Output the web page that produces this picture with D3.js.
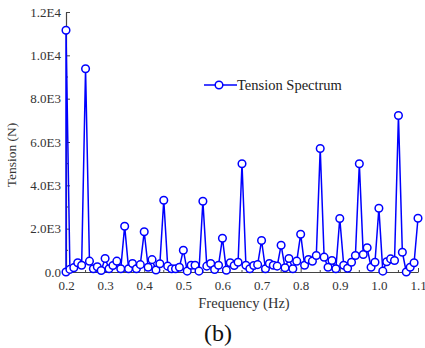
<!DOCTYPE html>
<html><head><meta charset="utf-8">
<script src="https://cdn.jsdelivr.net/npm/d3@7"></script>
<style>
body{margin:0;background:#fff;}
text{font-family:"Liberation Serif","Times New Roman",serif;}
</style></head>
<body><svg id="c" width="425" height="348"></svg>
<script>
const frequency = [0.20,0.20,0.21,0.22,0.23,0.24,0.25,0.26,0.27,0.28,0.29,0.30,0.31,0.32,0.33,0.34,0.35,0.36,0.37,0.38,0.39,
  0.40,0.41,0.42,0.43,0.44,0.45,0.46,0.47,0.48,0.49,0.50,0.51,0.52,0.53,0.54,0.55,0.56,0.57,0.58,0.59,
  0.60,0.61,0.62,0.63,0.64,0.65,0.66,0.67,0.68,0.69,0.70,0.71,0.72,0.73,0.74,0.75,0.76,0.77,0.78,0.79,
  0.80,0.81,0.82,0.83,0.84,0.85,0.86,0.87,0.88,0.89,0.90,0.91,0.92,0.93,0.94,0.95,0.96,0.97,0.98,0.99,
  1.00,1.01,1.02,1.03,1.04,1.05,1.06,1.07,1.08,1.09,1.10];
const tension = [0,11160,120,200,425,315,9380,500,150,240,70,620,150,300,500,150,2115,150,390,150,340,
  1855,220,570,90,380,3313,270,150,150,220,1006,40,315,315,40,3267,270,390,115,315,
  1560,85,425,300,450,4993,315,150,300,340,1454,150,390,315,270,1237,195,620,150,500,
  1744,315,575,500,760,5699,685,220,530,150,2469,315,170,450,760,4993,805,1115,220,450,
  2944,40,470,605,530,7222,915,0,220,425,2483];
const xTicks = [0.2,0.3,0.4,0.5,0.6,0.7,0.8,0.9,1.0,1.1];
const yTicks = [0,2000,4000,6000,8000,10000,12000];
const yTickLabels = ["0.0","2.0E3","4.0E3","6.0E3","8.0E3","1.0E4","1.2E4"];
const seriesName = "Tension Spectrum";

const svg = d3.select("#c");
const L=66, R=418, T=12, B=272;
const x = d3.scaleLinear().domain([0.2,1.1]).range([L,R]);
const y = d3.scaleLinear().domain([0,12000]).range([B,T]);
const axisColor = "#444";

const xMinor = d3.range(0.25,1.1,0.1);
const yMinor = d3.range(1000,12000,2000);

const gx = svg.append("g").attr("transform",`translate(0,${B})`)
  .call(d3.axisBottom(x).tickValues(xTicks).tickFormat(d3.format(".1f")).tickSizeInner(-4).tickSizeOuter(0).tickPadding(9));
gx.select(".domain").attr("stroke",axisColor).attr("stroke-width",1.2);
gx.selectAll(".tick line").attr("stroke",axisColor);
gx.selectAll("text").attr("font-size",13).attr("fill","#333").style("font-family","Liberation Serif");
svg.append("g").selectAll("line").data(xMinor).join("line")
  .attr("x1",d=>x(d)).attr("x2",d=>x(d)).attr("y1",B).attr("y2",B-2).attr("stroke",axisColor);

const gy = svg.append("g").attr("transform",`translate(${L},0)`)
  .call(d3.axisLeft(y).tickValues(yTicks).tickFormat((d,i)=>yTickLabels[i]).tickSizeInner(-4).tickSizeOuter(0).tickPadding(5));
gy.select(".domain").attr("stroke",axisColor).attr("stroke-width",1.2);
gy.selectAll(".tick line").attr("stroke",axisColor);
gy.selectAll("text").attr("font-size",13).attr("fill","#333").style("font-family","Liberation Serif");
svg.append("g").selectAll("line").data(yMinor).join("line")
  .attr("x1",L).attr("x2",L+2).attr("y1",d=>y(d)).attr("y2",d=>y(d)).attr("stroke",axisColor);

const pts = frequency.map((f,i)=>[f,tension[i]]);
svg.append("path").datum(pts)
  .attr("d",d3.line().x(d=>x(d[0])).y(d=>y(d[1])))
  .attr("fill","none").attr("stroke","#0000ff").attr("stroke-width",1.5);
svg.append("g").selectAll("circle").data(pts).join("circle")
  .attr("cx",d=>x(d[0])).attr("cy",d=>y(d[1])).attr("r",3.8)
  .attr("fill","#fff").attr("stroke","#0000ff").attr("stroke-width",1.5);

const lg = svg.append("g");
lg.append("line").attr("x1",204).attr("x2",237).attr("y1",85).attr("y2",85).attr("stroke","#0000ff").attr("stroke-width",1.5);
lg.append("circle").attr("cx",219).attr("cy",85).attr("r",3.8).attr("fill","#fff").attr("stroke","#0000ff").attr("stroke-width",1.5);
lg.append("text").attr("x",237).attr("y",90).attr("font-size",14.5).attr("fill","#222").text(seriesName);

svg.append("text").attr("x",244).attr("y",308).attr("text-anchor","middle").attr("font-size",14.5).attr("fill","#333").text("Frequency (Hz)");
svg.append("text").attr("transform","translate(16,155) rotate(-90)").attr("text-anchor","middle").attr("font-size",13.5).attr("fill","#333").text("Tension (N)");
svg.append("text").attr("x",218).attr("y",341).attr("text-anchor","middle").attr("font-size",24).attr("fill","#111").text("(b)");
</script></body></html>
